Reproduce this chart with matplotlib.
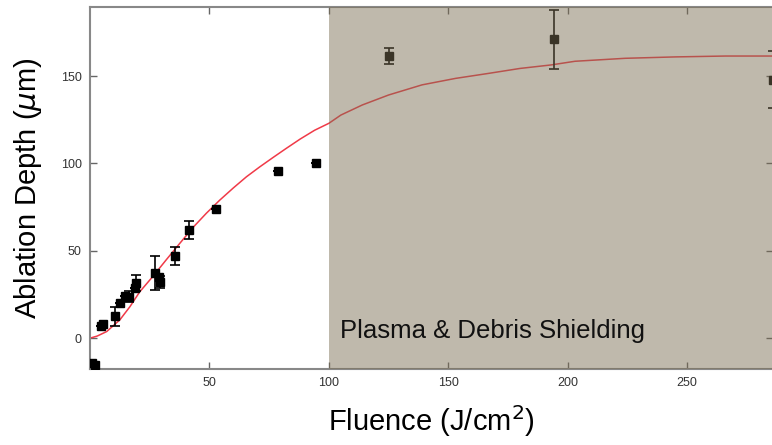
import matplotlib.pyplot as plt

# measured ablation depth vs fluence
fluence = [1.0, 2.0, 4.5, 5.3, 10.5, 12.5, 14.6, 16.2, 19.0, 19.3, 27.4, 28.8, 29.3,
           35.5, 41.4, 52.9, 78.7, 94.8, 125.0, 194.2, 285.8]
depth = [-14.5, -15.2, 7.0, 8.3, 12.4, 20.4, 24.4, 23.8, 28.5, 31.5, 37.5, 35.0, 32.3,
         47.1, 62.0, 73.8, 95.7, 100.5, 161.5, 171.0, 147.8]
depth_err = [0, 0, 0, 0, 5.5, 0, 0, 3.0, 0, 4.5, 9.7, 0, 3.5,
             5.0, 5.2, 0, 0, 0, 4.6, 16.7, 16.3]

# fit curve
fit_x = [0, 3, 7, 12.5, 16.7, 20.8, 26.4, 32, 37.6, 43.2, 48.7, 54.3, 60, 65.5, 71,
         76.7, 82, 88, 94, 100, 105, 114, 125, 139, 153, 167, 180, 193, 203, 224,
         245, 266, 286]
fit_y = [0, 1.2, 3.8, 10.5, 18, 26.5, 35.5, 45, 54.3, 63.5, 71.5, 79, 86, 92.4, 98,
         103.5, 108.5, 114, 119, 123, 127.7, 133.5, 139.2, 145, 148.7, 151.6, 154.4,
         156.4, 158.5, 160.2, 161, 161.5, 161.5]

shield_start = 100
xticks = [50, 100, 150, 200, 250]
yticks = [0, 50, 100, 150]

plt.rcParams['font.family'] = ['Liberation Sans', 'DejaVu Sans']
plt.rcParams['mathtext.fontset'] = 'dejavusans'

fig = plt.figure(figsize=(7.72, 4.45), dpi=100)
ax = fig.add_axes([0.1166, 0.171, 0.885, 0.813])

ax.plot(fit_x, fit_y, color='#f03a48', lw=1.1, zorder=2)
ax.errorbar(fluence, depth, yerr=depth_err, fmt='s', color='black', ms=6,
            ecolor='black', elinewidth=1.2, capsize=3.5, capthick=1.2, zorder=3)

# semi-transparent shading over the shielding regime
ax.axvspan(shield_start, 300, color='#7b6e53', alpha=0.48, lw=0, zorder=4)
ax.text(104.5, 4, 'Plasma & Debris Shielding', fontsize=18.5, va='center',
        color='#111111', zorder=5)

ax.set_xlim(0, 286)
ax.set_ylim(-17.6, 189.5)
ax.set_xticks(xticks)
ax.set_yticks(yticks)
ax.tick_params(direction='in', length=5, width=1, colors='#666666', labelcolor='#333333',
               labelsize=9, top=True, right=True, pad=6)
for s in ax.spines.values():
    s.set_color('#888888')
    s.set_linewidth(1.5)

ax.set_xlabel('Fluence (J/cm$^2$)', fontsize=21, labelpad=10)
ax.set_ylabel('Ablation Depth ($\\mu$m)', fontsize=21, labelpad=12)

fig.savefig('out.png', dpi=100)
